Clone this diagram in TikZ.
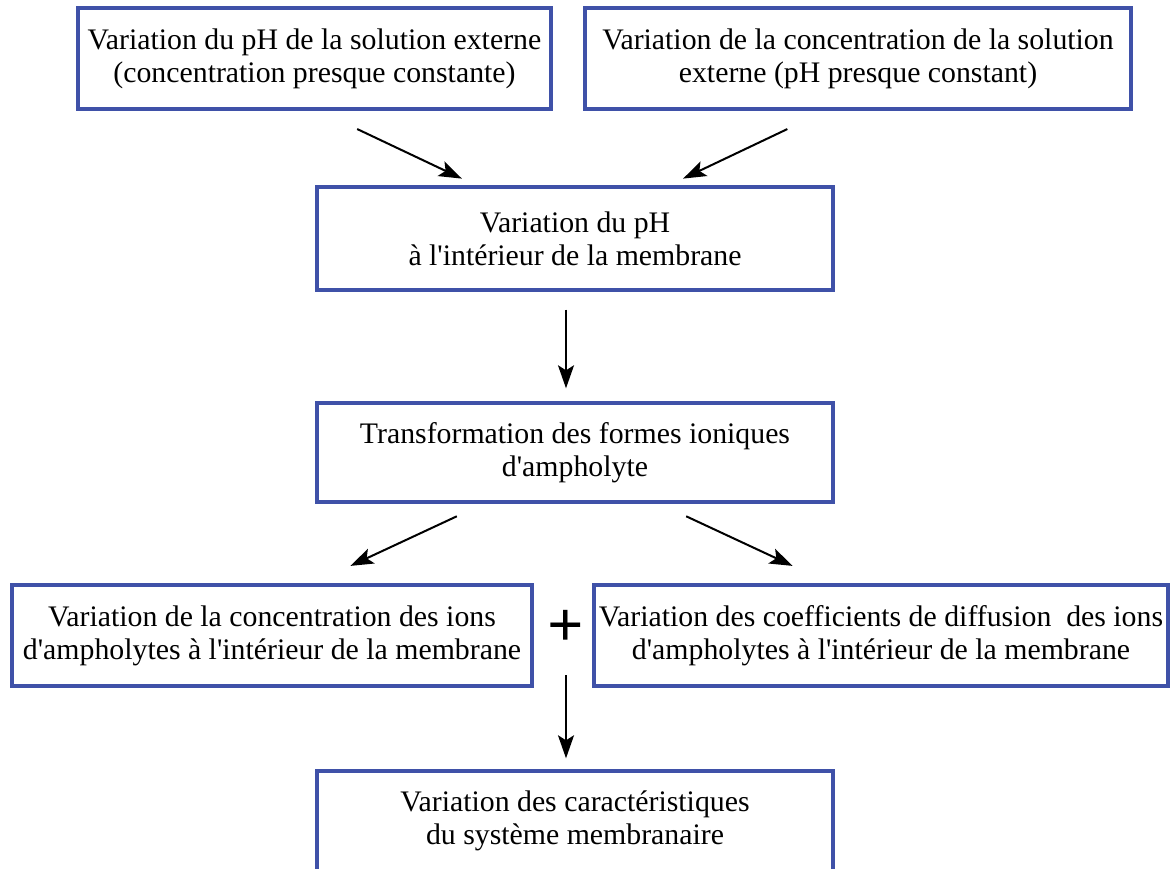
\documentclass[tikz,border=0pt]{standalone}
\usepackage{fontspec}
\setmainfont{Liberation Serif}
\usetikzlibrary{arrows.meta}
\definecolor{boxblue}{RGB}{63,81,168}
\newcommand{\apos}{\textquotesingle}

\begin{document}
\begin{tikzpicture}[x=0.5pt,y=-0.5pt,
  font=\fontsize{14.9}{16.6}\selectfont,
  box/.style 2 args={draw=boxblue,line width=1.7pt,align=center,inner sep=1pt,
    minimum width=#1*0.5pt,minimum height=#2*0.5pt},
  arr/.style={-{Stealth[length=11.5pt,width=8pt,inset=2.5pt]},line width=1pt}]
\useasboundingbox (0,0) rectangle (1172,868);
\clip (0,0) rectangle (1172,868);
\node[box={473}{101}] (extpH) at (314.5,58.5) {Variation du pH de la solution externe\\(concentration presque constante)};
\node[box={546}{101}] (extconc) at (858,58.5) {Variation de la concentration de la solution\\externe (pH presque constant)};
\node[box={516}{103}] (intpH) at (575,238.5) {Variation du pH\\à l\apos intérieur de la membrane};
\node[box={516}{99}] (ionic) at (575,452.5) {Transformation des formes ioniques\\d\apos ampholyte};
\node[box={520}{101}] (conc) at (272,635.5) {Variation de la concentration des ions\\d\apos ampholytes à l\apos intérieur de la membrane};
\node[box={574}{101}] (diff) at (881,635.5) {Variation des coefficients de diffusion~ des ions\\d\apos ampholytes à l\apos intérieur de la membrane};
\node[box={516}{100}] (charact) at (575,821) {Variation des caractéristiques\\du système membranaire};
\node[font=\bfseries\fontsize{32}{32}\selectfont,inner sep=0pt] (plus) at (566,628) {+};
% arrows
\draw[arr,shorten <=21.4pt,shorten >=7.8pt] ([xshift=2pt]extpH.south) -- ([xshift=-49.5pt]intpH.north);
\draw[arr,shorten <=21.4pt,shorten >=7.8pt] ([xshift=-16pt]extconc.south) -- ([xshift=47pt]intpH.north);
\draw[arr,shorten <=9pt,shorten >=6.5pt] ([xshift=-4.5pt]intpH.south) -- ([xshift=-4.5pt]ionic.north);
\draw[arr,shorten <=14.9pt,shorten >=20.6pt] ([xshift=-45.6pt]ionic.south) -- ([xshift=20.5pt]conc.north);
\draw[arr,shorten <=14.9pt,shorten >=20.6pt] ([xshift=42.1pt]ionic.south) -- ([xshift=-25.5pt]diff.north);
\draw[arr,shorten <=23.5pt,shorten >=5.5pt] (plus.center) -- (plus.center |- charact.north);
\end{tikzpicture}
\end{document}
